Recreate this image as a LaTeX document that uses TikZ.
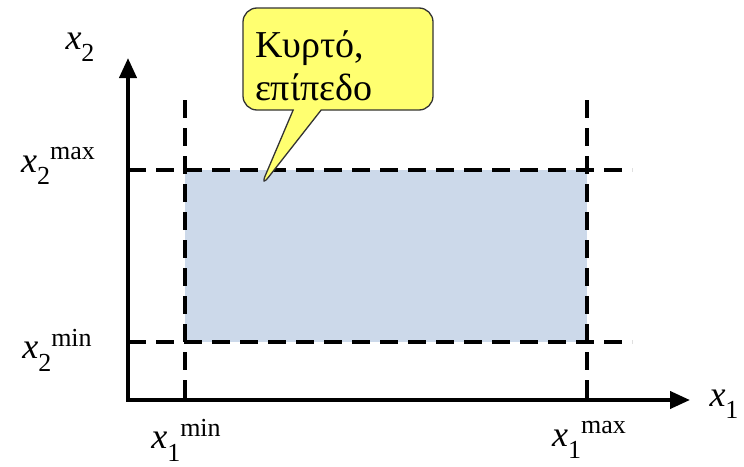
\documentclass[tikz,border=0pt]{standalone}
\usepackage{fontspec}
\setmainfont{Liberation Serif}
\usetikzlibrary{arrows.meta,shapes.callouts}
\definecolor{regionblue}{HTML}{CCD9EA}
\definecolor{calloutyellow}{HTML}{FFFF70}
\newcommand{\varlab}[2]{\textit{x}\raisebox{-0.34em}{\fontsize{26}{26}\selectfont #1}\raisebox{0.36em}{\fontsize{26}{26}\selectfont #2}}
\tikzset{
  axisline/.style={line width=4pt,line join=miter,{Triangle[length=20pt,width=17pt]}-{Triangle[length=20pt,width=17pt]}},
  guide/.style={line width=3.5pt,dash pattern=on 18pt off 10pt},
  lab/.style={font=\fontsize{36}{38}\selectfont,inner sep=0pt},
  bubble/.style={rectangle callout,draw=black!80,line width=1.3pt,fill=calloutyellow,
    rounded corners=14pt,minimum width=190pt,minimum height=102pt,
    text width=166pt,inner xsep=12pt,inner ysep=1pt,align=left,callout pointer width=28pt,
    font=\fontsize{38}{43}\selectfont}
}
\begin{document}
\begin{tikzpicture}[x=1pt,y=-1pt]
\useasboundingbox (0,0) rectangle (744,466);
% coordinates
\coordinate (ytip) at (128,58);
\coordinate (O) at (128,400);
\coordinate (xtip) at (690,400);
\coordinate (a1) at (185,170);
\coordinate (b1) at (587,342);
% region
\fill[regionblue] (a1) rectangle (b1);
% guides
\coordinate (h1s) at (128,170); \coordinate (h1e) at (632,170);
\coordinate (h2s) at (128,342); \coordinate (h2e) at (632,342);
\coordinate (v1s) at (185,100); \coordinate (v1e) at (185,398);
\coordinate (v2s) at (587,100); \coordinate (v2e) at (587,398);
\draw[guide] (h1s) -- (h1e);
\draw[guide] (h2s) -- (h2e);
\draw[guide] (v1s) -- (v1e);
\draw[guide] (v2s) -- (v2e);
% axes
\draw[axisline] (ytip) -- (O) -- (xtip);
% labels
\node[lab] (lx2) at (80,47) {\varlab{2}{}};
\node[lab] (lx1) at (724,404) {\varlab{1}{}};
\node[lab] (lx2max) at (58,166) {\varlab{2}{max}};
\node[lab] (lx2min) at (57,350) {\varlab{2}{min}};
\node[lab] (lx1min) at (186,440) {\varlab{1}{min}};
\node[lab] (lx1max) at (589,440) {\varlab{1}{max}};
% callout
\coordinate (ptr) at (260,188);
\node[bubble,callout absolute pointer={(ptr)}] (note) at (338,59) {\rule{0pt}{40pt}Κυρτό,\\επίπεδο};
\end{tikzpicture}
\end{document}
